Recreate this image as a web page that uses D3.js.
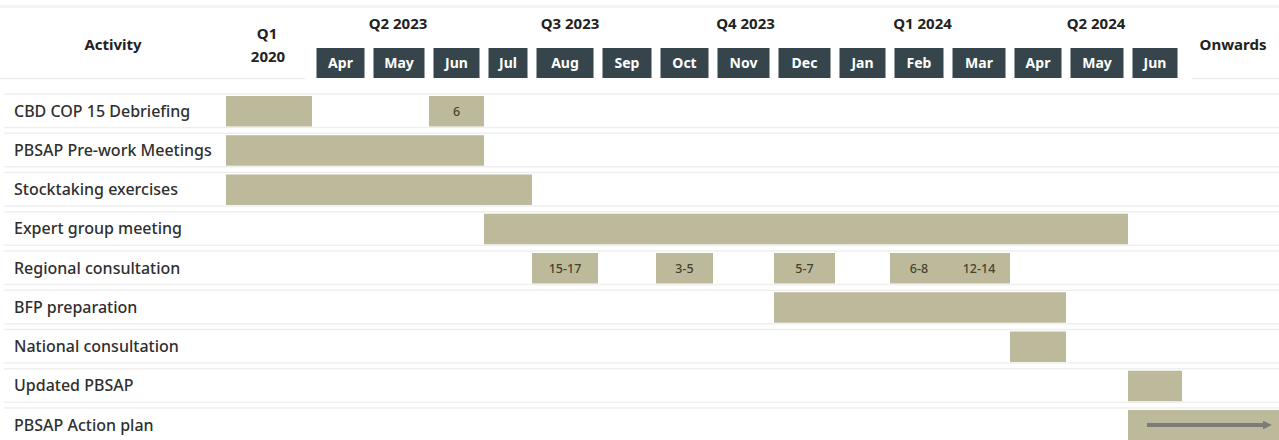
<!DOCTYPE html>
<html>
<head>
<meta charset="utf-8">
<script src="https://cdn.jsdelivr.net/npm/d3@7"></script>
<style>
  html, body { margin: 0; padding: 0; background: #fff; }
  svg { display: block; font-family: "Noto Sans", sans-serif; }
</style>
</head>
<body>
<svg id="chart" width="1279" height="440"></svg>
<script>
// --- data
const columns = ["Q1-2020", "Apr-23", "May-23", "Jun-23", "Jul-23", "Aug-23", "Sep-23",
  "Oct-23", "Nov-23", "Dec-23", "Jan-24", "Feb-24", "Mar-24", "Apr-24", "May-24", "Jun-24", "Onwards"];
const monthCols = columns.slice(1, 16);
const monthLabels = ["Apr", "May", "Jun", "Jul", "Aug", "Sep", "Oct", "Nov", "Dec",
  "Jan", "Feb", "Mar", "Apr", "May", "Jun"];
const quarterLabels = ["Q2 2023", "Q3 2023", "Q4 2023", "Q1 2024", "Q2 2024"];
const quarterStart = ["Apr-23", "Jul-23", "Oct-23", "Jan-24", "Apr-24"];
const quarterEnd = ["Jun-23", "Sep-23", "Dec-23", "Mar-24", "Jun-24"];

const activities = ["CBD COP 15 Debriefing", "PBSAP Pre-work Meetings", "Stocktaking exercises",
  "Expert group meeting", "Regional consultation", "BFP preparation", "National consultation",
  "Updated PBSAP", "PBSAP Action plan"];

const taskActivity = [0, 0, 1, 2, 3, 4, 4, 4, 4, 4, 5, 6, 7, 8];
const taskStart = ["Q1-2020", "Jun-23", "Q1-2020", "Q1-2020", "Jul-23", "Aug-23", "Oct-23",
  "Dec-23", "Feb-24", "Mar-24", "Dec-23", "Apr-24", "Jun-24", "Jun-24"];
const taskEnd = ["Q1-2020", "Jun-23", "Jun-23", "Jul-23", "May-24", "Aug-23", "Oct-23",
  "Dec-23", "Feb-24", "Mar-24", "Apr-24", "Apr-24", "Jun-24", "Onwards"];
const taskLabel = ["", "6", "", "", "", "15-17", "3-5", "5-7", "6-8", "12-14", "", "", "", ""];

// --- layout
const width = 1279, height = 440;
const colEdges = [226, 312, 369, 429, 484, 532, 598, 656, 713, 774, 835, 890, 948, 1010, 1066, 1128, 1182, 1279];
const barColor = "#bdba9c";
const boxColor = "#36454b";
const rule = "#efefef";

const svg = d3.select("#chart");

const xi = d3.scaleLinear().domain(d3.range(colEdges.length)).range(colEdges);
const colIndex = c => columns.indexOf(c);
const xStart = c => xi(colIndex(c));
const xEnd = c => xi(colIndex(c) + 1);

const y = d3.scaleBand()
  .domain(activities)
  .range([91.6, 91.6 + 39.25 * activities.length])
  .paddingInner(0.223)
  .paddingOuter(0.1115);

// faint header lines
svg.append("rect").attr("x", 0).attr("y", 5).attr("width", width).attr("height", 3).attr("fill", "#f4f4f4");
svg.append("line").attr("x1", 0).attr("x2", 305).attr("y1", 78.5).attr("y2", 78.5)
  .attr("stroke", rule).attr("stroke-width", 1.5);
svg.append("line").attr("x1", 1192).attr("x2", width).attr("y1", 78.5).attr("y2", 78.5)
  .attr("stroke", rule).attr("stroke-width", 1.5);

// row rules, top and bottom of every row
const rows = svg.append("g").selectAll("g")
  .data(activities)
  .join("g");
rows.append("line")
  .attr("x1", 4).attr("x2", width)
  .attr("y1", d => y(d) - 2).attr("y2", d => y(d) - 2)
  .attr("stroke", rule).attr("stroke-width", 1.5);
rows.append("line")
  .attr("x1", 4).attr("x2", width)
  .attr("y1", d => y(d) + y.bandwidth() + 1).attr("y2", d => y(d) + y.bandwidth() + 1)
  .attr("stroke", rule).attr("stroke-width", 1.5);

// header text
const head = svg.append("g").attr("fill", "#222").attr("font-weight", 700).attr("font-size", 15)
  .attr("text-anchor", "middle");
head.append("text").attr("x", 113).attr("y", 50).text("Activity");
head.append("text").attr("x", 267).attr("y", 39).text("Q1");
head.append("text").attr("x", 268).attr("y", 62).text("2020");
head.append("text").attr("x", 1233).attr("y", 50).text("Onwards");
head.selectAll("text.q")
  .data(quarterLabels)
  .join("text")
  .attr("class", "q")
  .attr("x", (d, i) => (xStart(quarterStart[i]) + xEnd(quarterEnd[i])) / 2)
  .attr("y", 29)
  .text(d => d);

// month boxes
const months = svg.append("g").selectAll("g")
  .data(monthCols)
  .join("g");
months.append("rect")
  .attr("x", d => xStart(d) + 4.5)
  .attr("y", 48)
  .attr("width", d => xEnd(d) - xStart(d) - 9)
  .attr("height", 30)
  .attr("fill", boxColor);
months.append("text")
  .attr("x", d => (xStart(d) + xEnd(d)) / 2)
  .attr("y", 68)
  .attr("text-anchor", "middle")
  .attr("fill", "#fff")
  .attr("font-weight", 700)
  .attr("font-size", 14)
  .text((d, i) => monthLabels[i]);

// activity labels
svg.append("g").selectAll("text")
  .data(activities)
  .join("text")
  .attr("x", 14)
  .attr("y", d => y(d) + y.bandwidth() / 2 + 5.5)
  .attr("fill", "#2f2f2f")
  .attr("font-weight", 500)
  .attr("font-size", 16)
  .text(d => d);

// bars
const tasks = svg.append("g").selectAll("g")
  .data(d3.range(taskStart.length))
  .join("g");
tasks.append("rect")
  .attr("x", i => xStart(taskStart[i]))
  .attr("y", i => y(activities[taskActivity[i]]))
  .attr("width", i => xEnd(taskEnd[i]) - xStart(taskStart[i]))
  .attr("height", y.bandwidth())
  .attr("fill", barColor);
tasks.append("text")
  .attr("x", i => (xStart(taskStart[i]) + xEnd(taskEnd[i])) / 2)
  .attr("y", i => y(activities[taskActivity[i]]) + y.bandwidth() / 2 + 4.5)
  .attr("text-anchor", "middle")
  .attr("fill", "#45432f")
  .attr("font-weight", 500)
  .attr("font-size", 12.5)
  .text(i => taskLabel[i]);

// "onwards" arrow on the action plan bar
const defs = svg.append("defs");
defs.append("marker")
  .attr("id", "arrowhead")
  .attr("viewBox", "0 0 10 10")
  .attr("refX", 0).attr("refY", 5)
  .attr("markerWidth", 2.2).attr("markerHeight", 2.2)
  .attr("orient", "auto")
  .append("path").attr("d", "M0,0L10,5L0,10Z").attr("fill", "#7c7c76");
const lastRow = activities[activities.length - 1];
svg.append("line")
  .attr("x1", xStart("Jun-24") + 19)
  .attr("x2", width - 16)
  .attr("y1", y(lastRow) + 15)
  .attr("y2", y(lastRow) + 15)
  .attr("stroke", "#7c7c76")
  .attr("stroke-width", 4)
  .attr("marker-end", "url(#arrowhead)");
</script>
</body>
</html>
